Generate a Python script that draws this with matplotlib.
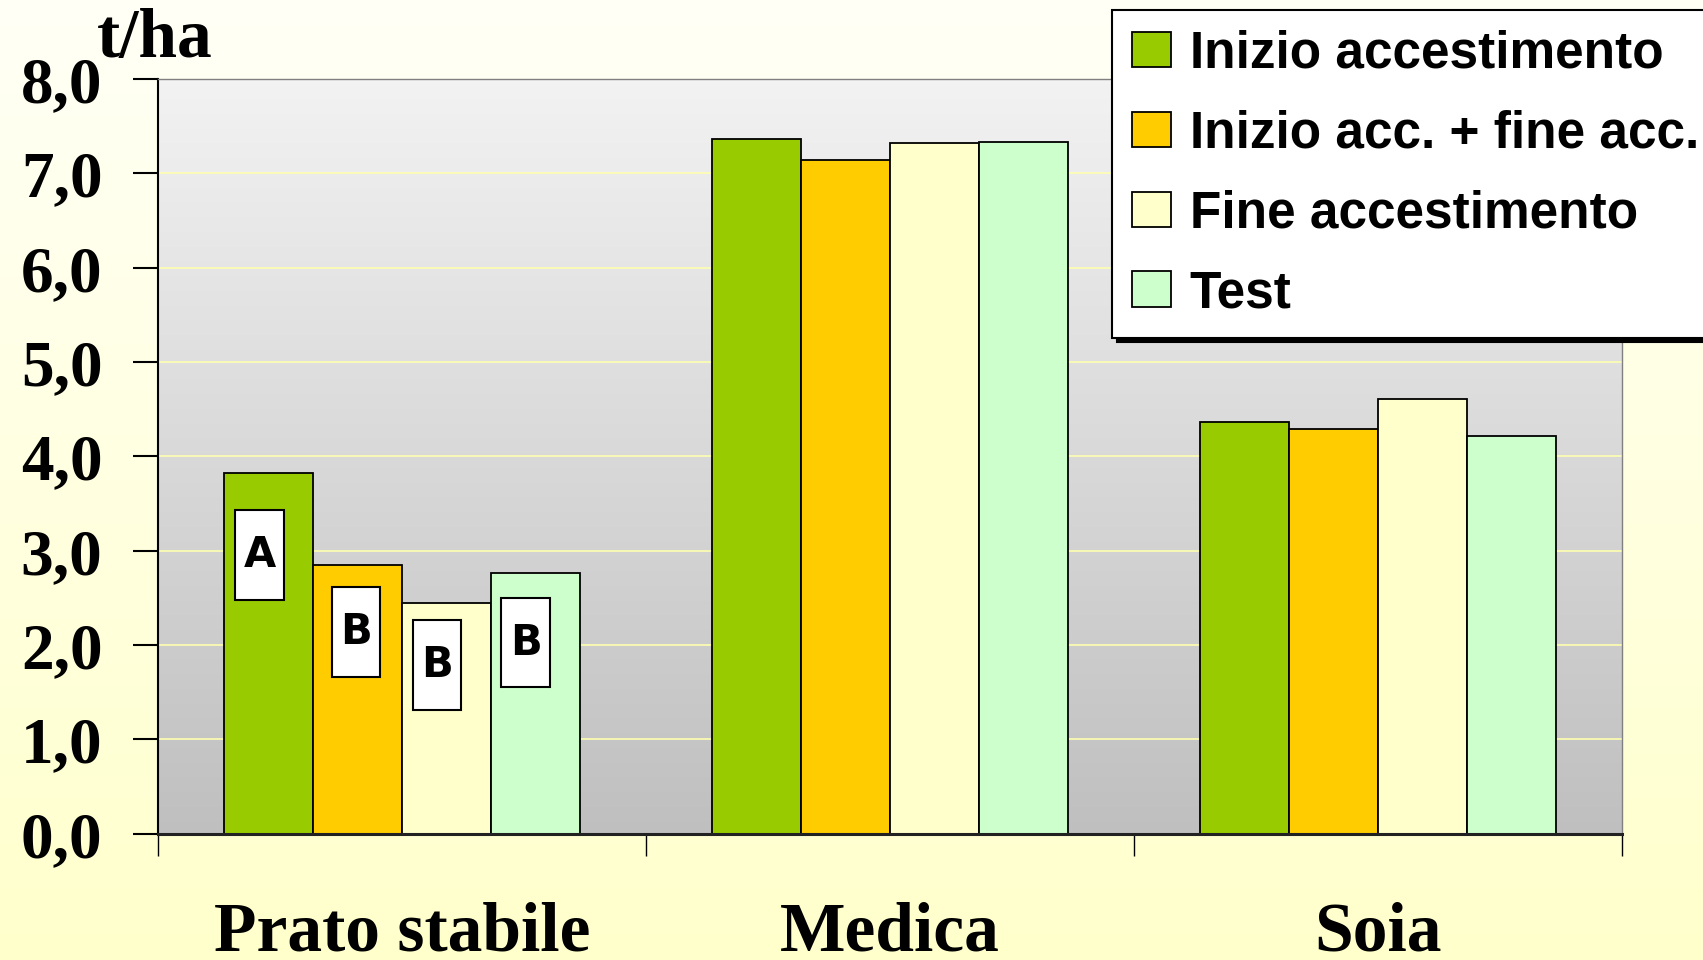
import numpy as np
import matplotlib
matplotlib.use("Agg")
import matplotlib.pyplot as plt
from matplotlib.patches import Patch

# data
categories = ["Prato stabile", "Medica", "Soia"]
series = ["Inizio accestimento", "Inizio acc. + fine acc.",
          "Fine accestimento", "Test"]
colors = ["#99CC00", "#FFCC00", "#FFFFCC", "#CCFFCC"]
inizio = [3.82, 7.36, 4.36]
inizio_fine = [2.85, 7.14, 4.29]
fine = [2.44, 7.32, 4.61]
test = [2.76, 7.33, 4.22]
values = [inizio, inizio_fine, fine, test]

# significance letters on Prato stabile
letters = ["A", "B", "B", "B"]
letter_x = [-0.292, -0.094, 0.072, 0.254]
letter_bottom = [2.48, 1.66, 1.31, 1.55]
letter_top = [3.43, 2.61, 2.27, 2.50]

yticks = [0, 1, 2, 3, 4, 5, 6, 7, 8]
ytick_labels = ["0,0", "1,0", "2,0", "3,0", "4,0", "5,0", "6,0", "7,0", "8,0"]

serif = "Liberation Serif"
sans = "Liberation Sans"

fig = plt.figure(figsize=(17.03, 9.6), dpi=100)

# figure background gradient (white-ish top -> pale yellow bottom)
bg = fig.add_axes([0, 0, 1, 1], zorder=-10)
grad = np.linspace(0, 1, 256).reshape(-1, 1)
top_c = np.array([1.0, 1.0, 0.965])
bot_c = np.array([1.0, 1.0, 0.80])
img = top_c + (bot_c - top_c) * grad[:, :, None]
bg.imshow(img, aspect="auto", extent=(0, 1, 0, 1))
bg.axis("off")

ax = fig.add_axes([0.0928, 0.1316, 0.8594, 0.7861])
ax.patch.set_visible(False)
ax.set_xlim(-0.5, 2.5)
ax.set_ylim(0, 8)

# plot area gradient (light grey top -> darker grey bottom)
a_top = np.array([0.95, 0.95, 0.95])
a_bot = np.array([0.75, 0.75, 0.75])
aimg = a_top + (a_bot - a_top) * grad[:, :, None]
ax.imshow(aimg, aspect="auto", extent=(-0.5, 2.5, 0, 8), zorder=0)

for yy in yticks[1:-1]:
    ax.axhline(yy, color="#FFFFB0", lw=1.2, zorder=1)

w = 0.1824
x = np.arange(len(categories))
for k, vals in enumerate(values):
    ax.bar(x + (k - 1.5) * w, vals, width=w, color=colors[k],
           edgecolor="black", linewidth=1.3, zorder=2, label=series[k])

ax.bar(letter_x, np.array(letter_top) - np.array(letter_bottom),
       bottom=letter_bottom, width=0.1, color="white",
       edgecolor="black", linewidth=1.5, zorder=3)
for lx, lb, lt, s in zip(letter_x, letter_bottom, letter_top, letters):
    ax.text(lx, (lb + lt) / 2, s, ha="center", va="center", fontsize=30,
            fontweight="heavy", family="DejaVu Sans", zorder=4)

# axes styling
for side in ["top", "right"]:
    ax.spines[side].set_color("#808080")
    ax.spines[side].set_linewidth(1)
ax.spines["left"].set_linewidth(1.5)
ax.spines["bottom"].set_linewidth(2.2)
ax.spines["bottom"].set_color("#222222")

ax.set_yticks(yticks)
ax.set_yticklabels(ytick_labels, fontsize=47, fontweight="bold", family=serif)
ax.tick_params(axis="y", length=18, width=1.5, pad=22)

ax.set_xticks([-0.5, 0.5, 1.5, 2.5])
ax.set_xticklabels([])
ax.tick_params(axis="x", which="major", length=16, width=1)
ax.set_xticks(x, minor=True)
ax.set_xticklabels(categories, minor=True, fontsize=50,
                   fontweight="bold", family=serif)
ax.tick_params(axis="x", which="minor", length=0, pad=49)

fig.text(97 / 1703, 1 - 57 / 960, "t/ha", fontsize=50, fontweight="bold",
         family=serif, va="baseline", ha="left")

handles = [Patch(facecolor=c, edgecolor="black", linewidth=1.3) for c in colors]
leg = fig.legend(handles, series, loc="upper left",
                 bbox_to_anchor=(1112 / 1703, 1 - 10 / 960),
                 borderaxespad=0, fontsize=37, frameon=True, fancybox=False,
                 framealpha=1, edgecolor="black", handlelength=0.76,
                 handleheight=0.68, handletextpad=0.37, labelspacing=0.6,
                 borderpad=0.38,
                 shadow={"ox": 3.5, "oy": -3.5, "color": "black", "alpha": 1},
                 prop={"family": sans, "weight": "bold", "size": 37})
leg.get_frame().set_linewidth(1.5)

fig.savefig("out.png", dpi=100)
